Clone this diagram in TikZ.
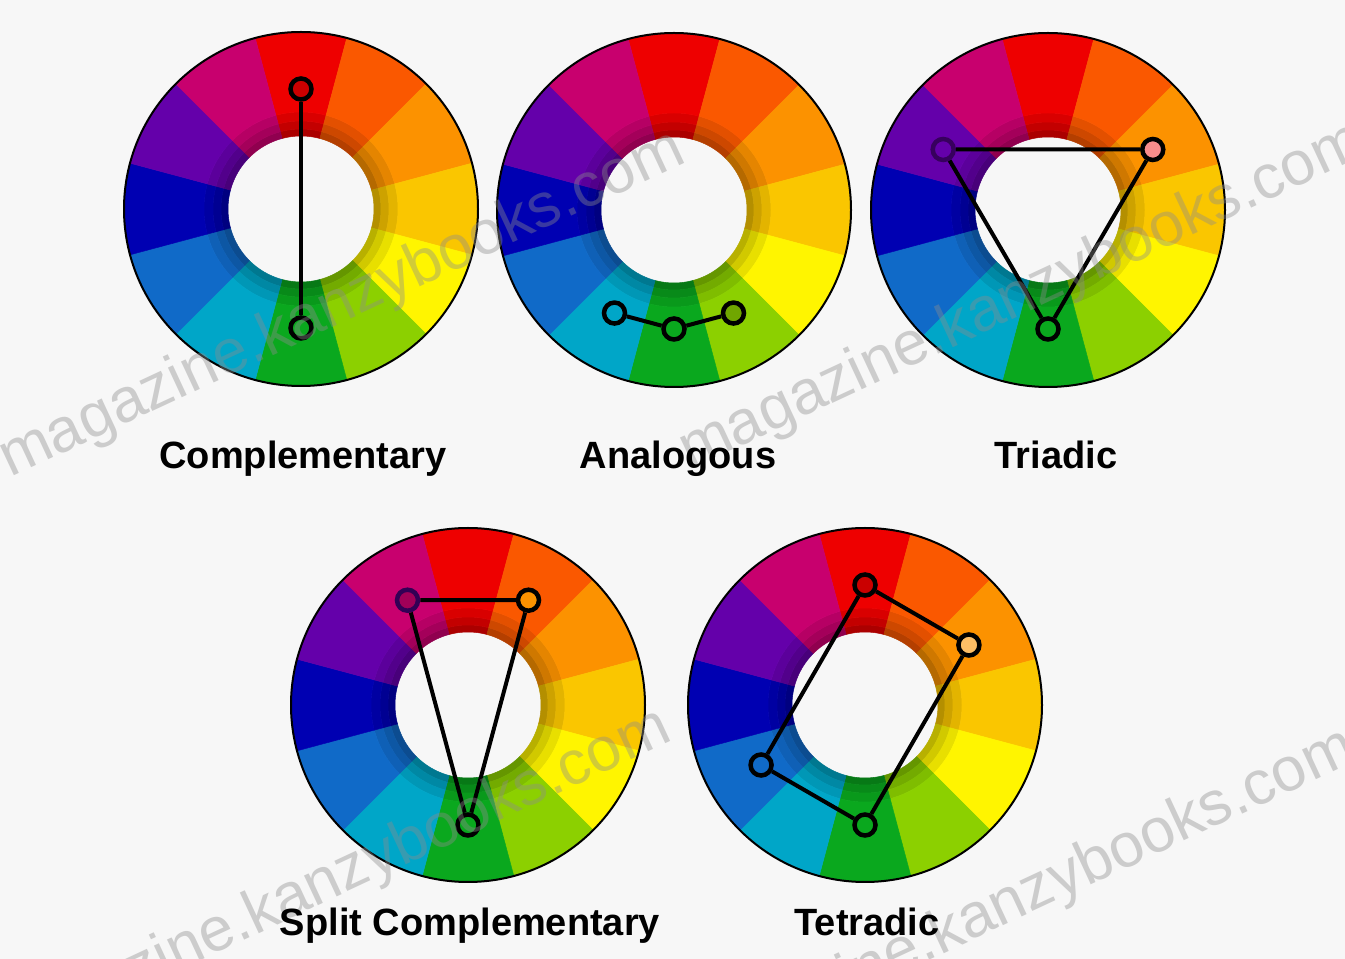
\documentclass[tikz,border=0pt]{standalone}
\usepackage{fontspec}
\setmainfont{Liberation Sans}
\definecolor{bg}{RGB}{247,247,247}
\definecolor{cR}{RGB}{238,0,0}
\definecolor{cRO}{RGB}{250,88,0}
\definecolor{cO}{RGB}{252,146,0}
\definecolor{cYO}{RGB}{250,198,0}
\definecolor{cY}{RGB}{255,245,0}
\definecolor{cYG}{RGB}{140,208,0}
\definecolor{cG}{RGB}{10,168,30}
\definecolor{cT}{RGB}{0,166,200}
\definecolor{cB}{RGB}{16,106,200}
\definecolor{cDB}{RGB}{0,0,178}
\definecolor{cV}{RGB}{100,0,170}
\definecolor{cM}{RGB}{200,0,110}
\tikzset{
  marker/.style={circle, draw=black, line width=4.5pt, minimum size=21pt, inner sep=0pt},
  link/.style={draw=black, line width=4pt},
  captxt/.style={font=\bfseries\fontsize{38}{40}\selectfont, anchor=base, text=black, inner sep=0pt},
  wm/.style={font=\fontsize{62}{64}\selectfont, text=black!45, opacity=0.4, rotate=25, anchor=base west, inner sep=0pt},
}
\newcommand\colorwheel{%
  \foreach \a/\c in {90/cR,60/cRO,30/cO,0/cYO,-30/cY,-60/cYG,-90/cG,-120/cT,-150/cB,180/cDB,150/cV,120/cM}{%
    \foreach \ri/\ro/\p in {73/80/72,80/88/82,88/97/91,97/177/100}{%
      \filldraw[fill=\c!\p!black, draw=\c!\p!black, line width=0.5pt]
        (\a-15:\ri) arc[start angle=\a-15, end angle=\a+15, radius=\ri]
        -- (\a+15:\ro) arc[start angle=\a+15, end angle=\a-15, radius=\ro] -- cycle;
    }
  }
  \draw[black, line width=2pt] (0,0) circle[radius=177];
}
\begin{document}
\begin{tikzpicture}[x=1pt, y=1pt]
\useasboundingbox (0,0) rectangle (1345,959);
\fill[bg] (0,0) rectangle (1345,959);

% wheels
\begin{scope}[shift={(301,750)}]
  \colorwheel
  \node[marker, fill=cR!85!black] (w1a) at (90:120) {};
  \node[marker, fill=cG] (w1b) at (-90:119) {};
\end{scope}
\begin{scope}[shift={(674,749)}]
  \colorwheel
  \node[marker, fill=cT] (w2a) at (-120:119) {};
  \node[marker, fill=cG] (w2b) at (-90:119) {};
  \node[marker, fill=cYG!80!black] (w2c) at (-60:119) {};
\end{scope}
\begin{scope}[shift={(1048,749)}]
  \colorwheel
  \node[marker, fill=cV, draw=cV!55!black] (w3a) at (150:121) {};
  \node[marker, fill=cR!45!white] (w3b) at (30:121) {};
  \node[marker, fill=cG] (w3c) at (-90:119) {};
\end{scope}
\begin{scope}[shift={(468,254)}]
  \colorwheel
  \node[marker, fill=cM!80!black, draw=cV!50!black] (w4a) at (120:121) {};
  \node[marker, fill=cO] (w4b) at (60:121) {};
  \node[marker, fill=cG] (w4c) at (-90:120) {};
\end{scope}
\begin{scope}[shift={(865,254)}]
  \colorwheel
  \node[marker, fill=cR!85!black] (w5a) at (90:120) {};
  \node[marker, fill=cO!60!white] (w5b) at (30:120) {};
  \node[marker, fill=cG] (w5c) at (-90:120) {};
  \node[marker, fill=cB] (w5d) at (-150:120) {};
\end{scope}

% connectors
\draw[link] (w1a) -- (w1b);
\draw[link] (w2a) -- (w2b) -- (w2c);
\draw[link] (w3a) -- (w3b) -- (w3c) -- (w3a);
\draw[link] (w4a) -- (w4b) -- (w4c) -- (w4a);
\draw[link] (w5a) -- (w5b) -- (w5c) -- (w5d) -- (w5a);

% watermark
\begin{scope}
  \clip (0,0) rectangle (1345,959);
  \node[wm] (wm1) at (10,481) {magazine.kanzybooks.com};
  \node[wm] (wm2) at (690,489) {magazine.kanzybooks.com};
  \node[wm] (wm3) at (-4,-97) {magazine.kanzybooks.com};
  \node[wm] (wm4) at (681,-117) {magazine.kanzybooks.com};
\end{scope}

% captions
\node[captxt] (t1) at (303,490) {Complementary};
\node[captxt] (t2) at (678,490) {Analogous};
\node[captxt] (t3) at (1056,490) {Triadic};
\node[captxt] (t4) at (470,23) {Split Complementary};
\node[captxt] (t5) at (867,23) {Tetradic};
\end{tikzpicture}
\end{document}
